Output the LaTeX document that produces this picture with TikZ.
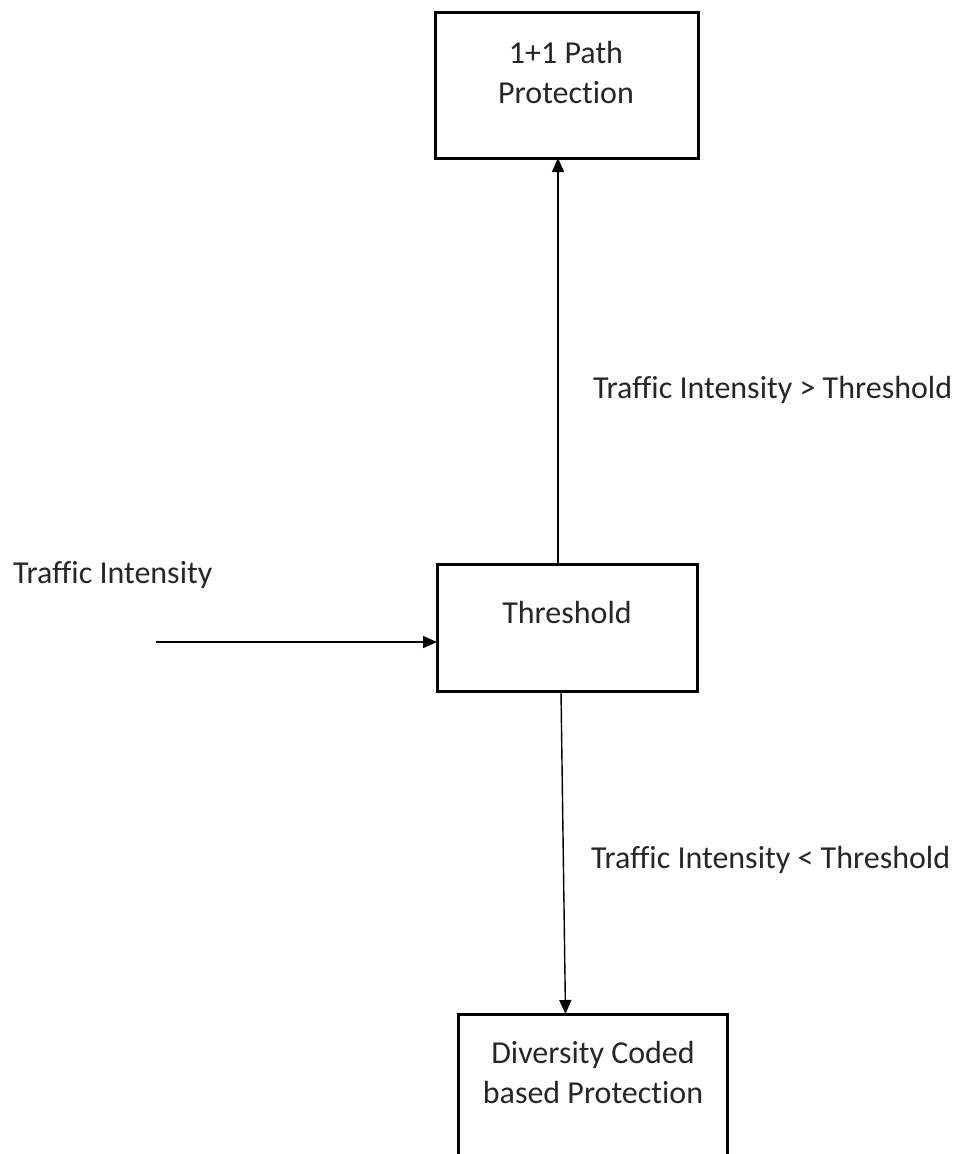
\documentclass[tikz,border=0pt]{standalone}
\usepackage{fontspec}
\setmainfont[Ligatures=NoCommon]{Carlito}
\usetikzlibrary{arrows.meta}
\tikzset{
  box/.style={draw=black, line width=3pt, inner sep=0pt, outer sep=0pt},
  txt/.style={inner sep=0pt, outer sep=0pt, text=black!85, font=\fontsize{32}{40}\selectfont},
  flow/.style={line width=1.4pt, -{Triangle[length=14pt,width=12pt]}},
}
\begin{document}
\begin{tikzpicture}[x=1pt, y=-1pt]
  \useasboundingbox (0,0) rectangle (956,1154);
  \clip (0,0) rectangle (956,1154);

  % the three blocks
  \node[box, minimum width=263pt, minimum height=146pt] (prot) at (566.5,85) {};
  \node[box, minimum width=260pt, minimum height=127pt] (thr) at (567,627.5) {};
  \node[box, minimum width=269pt, minimum height=186pt] (dcp) at (592.5,1107) {};

  % block captions
  \node[txt, anchor=base] (protA) at (566,63) {1+1 Path};
  \node[txt, anchor=base] (protB) at (566,103) {Protection};
  \node[txt, anchor=base] (thrA) at (567,623) {Threshold};
  \node[txt, anchor=base] (dcpA) at (593,1063) {Diversity Coded};
  \node[txt, anchor=base] (dcpB) at (593,1103) {based Protection};

  % input and branch conditions
  \node[txt, anchor=base west] (inlab) at (13,583) {Traffic Intensity};
  \node[txt, anchor=base west] (hi) at (593,398) {Traffic Intensity > Threshold};
  \node[txt, anchor=base west] (lo) at (591,868) {Traffic Intensity < Threshold};

  % connectors
  \coordinate (in) at (156,642);
  \draw[flow] (in) -- (in -| thr.west);
  \draw[flow] ([xshift=-9pt]thr.north) -- ([xshift=-9pt]thr.north |- prot.south);
  \draw[flow] ([xshift=-6pt]thr.south) -- ([xshift=-27pt]dcp.north);
\end{tikzpicture}
\end{document}
